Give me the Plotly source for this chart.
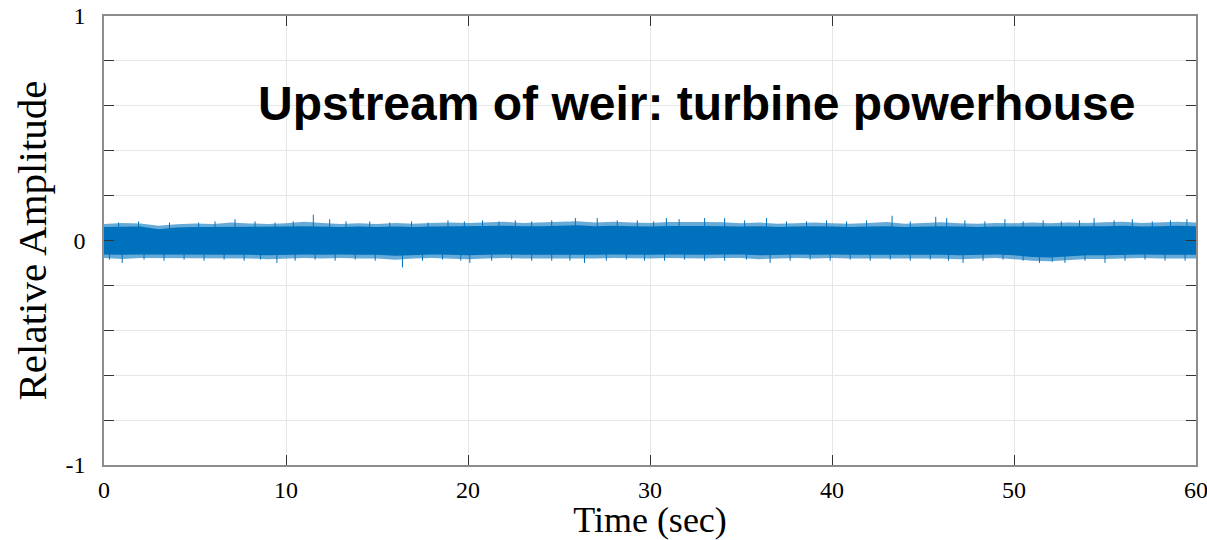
import plotly.graph_objects as go

# ---- data ----
t_env = list(range(61))
core_upper = [0.060, 0.062, 0.062, 0.050, 0.058, 0.060, 0.060, 0.063, 0.062, 0.060,
              0.062, 0.064, 0.062, 0.060, 0.062, 0.060, 0.062, 0.060, 0.062, 0.064,
              0.063, 0.065, 0.066, 0.063, 0.064, 0.066, 0.068, 0.064, 0.066, 0.064,
              0.062, 0.065, 0.066, 0.065, 0.064, 0.062, 0.064, 0.060, 0.062, 0.064,
              0.062, 0.060, 0.062, 0.064, 0.060, 0.062, 0.064, 0.062, 0.060, 0.062,
              0.062, 0.064, 0.062, 0.064, 0.062, 0.064, 0.066, 0.062, 0.064, 0.066,
              0.064]
core_lower = [-0.062, -0.064, -0.062, -0.062, -0.064, -0.062, -0.064, -0.062, -0.064, -0.066,
              -0.064, -0.062, -0.064, -0.062, -0.064, -0.064, -0.068, -0.064, -0.062, -0.064,
              -0.066, -0.064, -0.062, -0.064, -0.064, -0.064, -0.066, -0.064, -0.062, -0.064,
              -0.064, -0.062, -0.064, -0.064, -0.062, -0.062, -0.066, -0.064, -0.062, -0.064,
              -0.062, -0.064, -0.064, -0.062, -0.064, -0.062, -0.064, -0.066, -0.064, -0.062,
              -0.066, -0.074, -0.076, -0.070, -0.066, -0.066, -0.064, -0.062, -0.064, -0.064,
              -0.064]
# ragged outer edge of the band
fuzz_upper = [0.074, 0.078, 0.076, 0.066, 0.072, 0.076, 0.074, 0.080, 0.076, 0.074,
              0.077, 0.084, 0.078, 0.074, 0.077, 0.074, 0.078, 0.075, 0.078, 0.080,
              0.078, 0.081, 0.083, 0.078, 0.080, 0.083, 0.086, 0.080, 0.083, 0.080,
              0.078, 0.082, 0.083, 0.082, 0.081, 0.077, 0.080, 0.075, 0.077, 0.080,
              0.077, 0.075, 0.078, 0.082, 0.075, 0.078, 0.081, 0.077, 0.075, 0.078,
              0.077, 0.080, 0.077, 0.080, 0.078, 0.081, 0.083, 0.078, 0.080, 0.083,
              0.080]
fuzz_lower = [-0.078, -0.082, -0.078, -0.078, -0.080, -0.078, -0.080, -0.078, -0.080, -0.083,
              -0.080, -0.078, -0.080, -0.078, -0.080, -0.080, -0.086, -0.080, -0.078, -0.080,
              -0.083, -0.080, -0.078, -0.080, -0.080, -0.080, -0.083, -0.080, -0.078, -0.080,
              -0.080, -0.078, -0.080, -0.080, -0.078, -0.078, -0.083, -0.080, -0.078, -0.080,
              -0.078, -0.080, -0.080, -0.078, -0.080, -0.078, -0.080, -0.083, -0.080, -0.078,
              -0.083, -0.090, -0.092, -0.087, -0.082, -0.082, -0.080, -0.078, -0.080, -0.080,
              -0.080]

up_t = [0.8, 1.9, 3.6, 5.2, 6.1, 7.2, 8.3, 9.4, 10.4, 11.5, 12.4, 13.3, 14.6, 15.7, 16.9,
        17.8, 18.9, 19.8, 20.8, 21.7, 22.6, 23.5, 24.6, 25.9, 27.1, 28.2, 29.3, 30.2, 30.9,
        31.6, 33.0, 34.1, 35.2, 36.4, 37.5, 38.6, 39.7, 40.8, 41.9, 43.3, 44.3, 45.7, 46.3,
        47.3, 48.4, 49.5, 50.5, 51.6, 52.6, 53.6, 54.4, 55.5, 56.5, 57.6, 58.6, 59.5]
up_v = [0.080, 0.085, 0.080, 0.080, 0.085, 0.095, 0.085, 0.080, 0.085, 0.115, 0.095, 0.085,
        0.085, 0.080, 0.085, 0.080, 0.090, 0.085, 0.090, 0.085, 0.090, 0.085, 0.090, 0.100,
        0.100, 0.090, 0.090, 0.085, 0.100, 0.095, 0.100, 0.100, 0.090, 0.100, 0.085, 0.085,
        0.090, 0.085, 0.090, 0.110, 0.085, 0.105, 0.100, 0.090, 0.085, 0.095, 0.085, 0.090,
        0.085, 0.090, 0.100, 0.090, 0.095, 0.085, 0.090, 0.095]
down_t = [0.3, 1.0, 2.2, 3.3, 4.4, 5.5, 6.6, 7.7, 8.6, 9.5, 10.5, 11.6, 12.7, 13.8, 14.9,
          16.4, 17.5, 18.6, 19.6, 20.1, 21.3, 22.4, 23.5, 24.6, 25.6, 26.4, 27.6, 28.7, 29.7,
          30.8, 31.9, 33.0, 34.1, 35.3, 36.6, 37.7, 38.8, 39.9, 41.0, 42.1, 43.2, 44.3, 45.4,
          46.4, 47.2, 48.3, 49.4, 50.5, 51.4, 52.1, 52.8, 53.9, 55.0, 56.1, 57.2, 58.3, 59.4]
down_v = [-0.085, -0.100, -0.085, -0.090, -0.085, -0.090, -0.085, -0.090, -0.085, -0.100,
          -0.090, -0.085, -0.090, -0.085, -0.090, -0.120, -0.090, -0.085, -0.090, -0.100,
          -0.090, -0.085, -0.090, -0.090, -0.090, -0.100, -0.090, -0.085, -0.090, -0.090,
          -0.085, -0.090, -0.090, -0.085, -0.100, -0.090, -0.085, -0.090, -0.085, -0.090,
          -0.085, -0.090, -0.085, -0.090, -0.100, -0.090, -0.085, -0.090, -0.100, -0.095,
          -0.100, -0.090, -0.100, -0.090, -0.085, -0.090, -0.090]

x_ticks = [0, 10, 20, 30, 40, 50, 60]
y_ticks = [-1, -0.8, -0.6, -0.4, -0.2, 0, 0.2, 0.4, 0.6, 0.8, 1]
y_ticktext = ["-1", "", "", "", "", "0", "", "", "", "", "1"]

title_text = "Upstream of weir: turbine powerhouse"
COLOR = "#0072BD"
COLOR_EDGE = "rgba(0,114,189,0.6)"

fig = go.Figure()

# ragged outer edge (lighter)
fig.add_trace(go.Scatter(x=t_env, y=fuzz_upper, mode="lines",
                         line=dict(width=0, color=COLOR), showlegend=False,
                         hoverinfo="skip"))
fig.add_trace(go.Scatter(x=t_env, y=fuzz_lower, mode="lines", fill="tonexty",
                         fillcolor=COLOR_EDGE, line=dict(width=0, color=COLOR),
                         showlegend=False, hoverinfo="skip"))
# solid core of the signal band
fig.add_trace(go.Scatter(x=t_env, y=core_upper, mode="lines",
                         line=dict(width=0, color=COLOR), showlegend=False,
                         hoverinfo="skip"))
fig.add_trace(go.Scatter(x=t_env, y=core_lower, mode="lines", fill="tonexty",
                         fillcolor=COLOR, line=dict(width=0, color=COLOR),
                         showlegend=False, hoverinfo="skip"))

# spikes from the band edges
sx, sy = [], []
for t, v in zip(up_t, up_v):
    sx += [t, t, None]
    sy += [0, v, None]
for t, v in zip(down_t, down_v):
    sx += [t, t, None]
    sy += [0, v, None]
fig.add_trace(go.Scatter(x=sx, y=sy, mode="lines", line=dict(width=1, color=COLOR),
                         showlegend=False, hoverinfo="skip", connectgaps=False))

fig.add_annotation(x=32.55, y=0.61, xref="x", yref="y", text="<b>" + title_text + "</b>",
                   showarrow=False, xanchor="center", yanchor="middle",
                   font=dict(family="Liberation Sans", size=48, color="black"))

serif = "Liberation Serif"
fig.update_layout(
    width=1207, height=540,
    margin=dict(l=104, r=11, t=16, b=75),
    paper_bgcolor="white", plot_bgcolor="white",
    font=dict(family=serif, color="black"),
    xaxis=dict(range=[0, 60], tickvals=x_ticks, ticktext=[str(v) for v in x_ticks],
               automargin=False, ticklabeloverflow="allow",
               showgrid=True, gridcolor="#e6e6e6", gridwidth=1,
               showline=True, linecolor="#8c8c8c", linewidth=1.5, mirror="ticks",
               ticks="inside", ticklen=10, tickcolor="#333333", tickwidth=1,
               tickfont=dict(family=serif, size=24), ticklabelstandoff=2,
               zeroline=False,
               title=dict(text="Time (sec)", font=dict(family=serif, size=36), standoff=8)),
    yaxis=dict(range=[-1, 1], tickvals=y_ticks, ticktext=y_ticktext,
               automargin=False, ticklabeloverflow="allow",
               showgrid=True, gridcolor="#e6e6e6", gridwidth=1,
               showline=True, linecolor="#8c8c8c", linewidth=1.5, mirror="ticks",
               ticks="inside", ticklen=10, tickcolor="#333333", tickwidth=1,
               tickfont=dict(family=serif, size=24), ticklabelstandoff=12,
               zeroline=False,
               title=dict(text="Relative Amplitude", font=dict(family=serif, size=41), standoff=6)),
)

fig.write_html("out.html")
